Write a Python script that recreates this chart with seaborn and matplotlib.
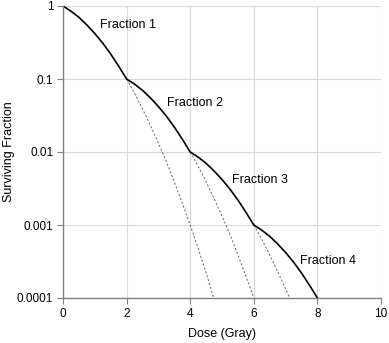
import matplotlib
matplotlib.use("Agg")
import matplotlib.pyplot as plt
import seaborn as sns
import pandas as pd
from matplotlib.ticker import FixedLocator, FixedFormatter, NullLocator

# Solid curve: four fractions of 2 Gy each
solid_dose = [0, 0.25, 0.5, 0.75, 1.0, 1.25, 1.5, 1.75,
              2.0, 2.25, 2.5, 2.75, 3.0, 3.25, 3.5, 3.75,
              4.0, 4.25, 4.5, 4.75, 5.0, 5.25, 5.5, 5.75,
              6.0, 6.25, 6.5, 6.75, 7.0, 7.25, 7.5, 7.75, 8.0]
solid_surv = [1, 0.85, 0.70, 0.55, 0.42, 0.31, 0.22, 0.15,
              0.1, 0.085, 0.070, 0.055, 0.042, 0.031, 0.022, 0.015,
              0.01, 0.0085, 0.0070, 0.0055, 0.0042, 0.0031, 0.0022, 0.0015,
              0.001, 0.00085, 0.00070, 0.00055, 0.00042, 0.00031, 0.00022, 0.00015,
              0.0001]

# Dashed continuations of a single dose
dash1_dose = [2.0, 2.25, 2.5, 2.75, 3.0, 3.25, 3.5, 3.75, 4.0, 4.25, 4.5, 4.74]
dash1_surv = [0.1, 0.064, 0.039, 0.023, 0.0133, 0.0074, 0.0039, 0.0020, 0.001, 0.00048, 0.00022, 0.0001]
dash2_dose = [4.0, 4.25, 4.5, 4.75, 5.0, 5.25, 5.5, 5.75, 6.0]
dash2_surv = [0.01, 0.0064, 0.0039, 0.0023, 0.00133, 0.00074, 0.00039, 0.00020, 0.0001]
dash3_dose = [6.0, 6.25, 6.5, 6.75, 7.0, 7.13]
dash3_surv = [0.001, 0.00064, 0.00039, 0.00023, 0.000133, 0.0001]

labels = ["Fraction 1", "Fraction 2", "Fraction 3", "Fraction 4"]
label_x = [1.17, 3.27, 5.33, 7.45]
label_y = [0.55, 0.047, 0.0041, 0.00032]

x_ticks = [0, 2, 4, 6, 8, 10]
y_ticks = [0.0001, 0.001, 0.01, 0.1, 1]
y_tick_labels = ["0.0001", "0.001", "0.01", "0.1", "1"]

plt.rcParams['font.family'] = ['Liberation Sans', 'DejaVu Sans']
plt.rcParams['font.size'] = 8.5

fig = plt.figure(figsize=(3.89, 3.43), dpi=100)
ax = fig.add_axes([63/389, 1-298/343, (381-63)/389, (298-6)/343])

for d, s in [(dash1_dose, dash1_surv), (dash2_dose, dash2_surv), (dash3_dose, dash3_surv)]:
    sns.lineplot(x=d, y=s, ax=ax, color="#666666", linewidth=0.7,
                 linestyle=(0, (2.2, 2.0)), sort=False, estimator=None)
sns.lineplot(x=solid_dose, y=solid_surv, ax=ax, color="black", linewidth=1.2,
             sort=False, estimator=None)

ax.set_yscale("log")
ax.set_xlim(0, 10)
ax.set_ylim(0.0001, 1)
ax.xaxis.set_major_locator(FixedLocator(x_ticks))
ax.yaxis.set_major_locator(FixedLocator(y_ticks))
ax.yaxis.set_major_formatter(FixedFormatter(y_tick_labels))
ax.yaxis.set_minor_locator(NullLocator())

ax.grid(True, color="#d9d9d9", linewidth=0.8)
ax.set_axisbelow(True)
for side in ["top", "right"]:
    ax.spines[side].set_visible(False)
for side in ["left", "bottom"]:
    ax.spines[side].set_color("#808080")
    ax.spines[side].set_linewidth(1.0)
ax.tick_params(axis="both", direction="out", length=4, width=0.8, color="#808080",
               labelsize=8.5, labelcolor="black", pad=3)

for t, x, y in zip(labels, label_x, label_y):
    ax.text(x, y, t, fontsize=9, va="center", ha="left")

ax.set_xlabel("Dose (Gray)", fontsize=9, labelpad=6)
ax.set_ylabel("Surviving Fraction", fontsize=9)
ax.yaxis.set_label_coords(-0.152, 0.5)

fig.savefig("out.png", dpi=100)
